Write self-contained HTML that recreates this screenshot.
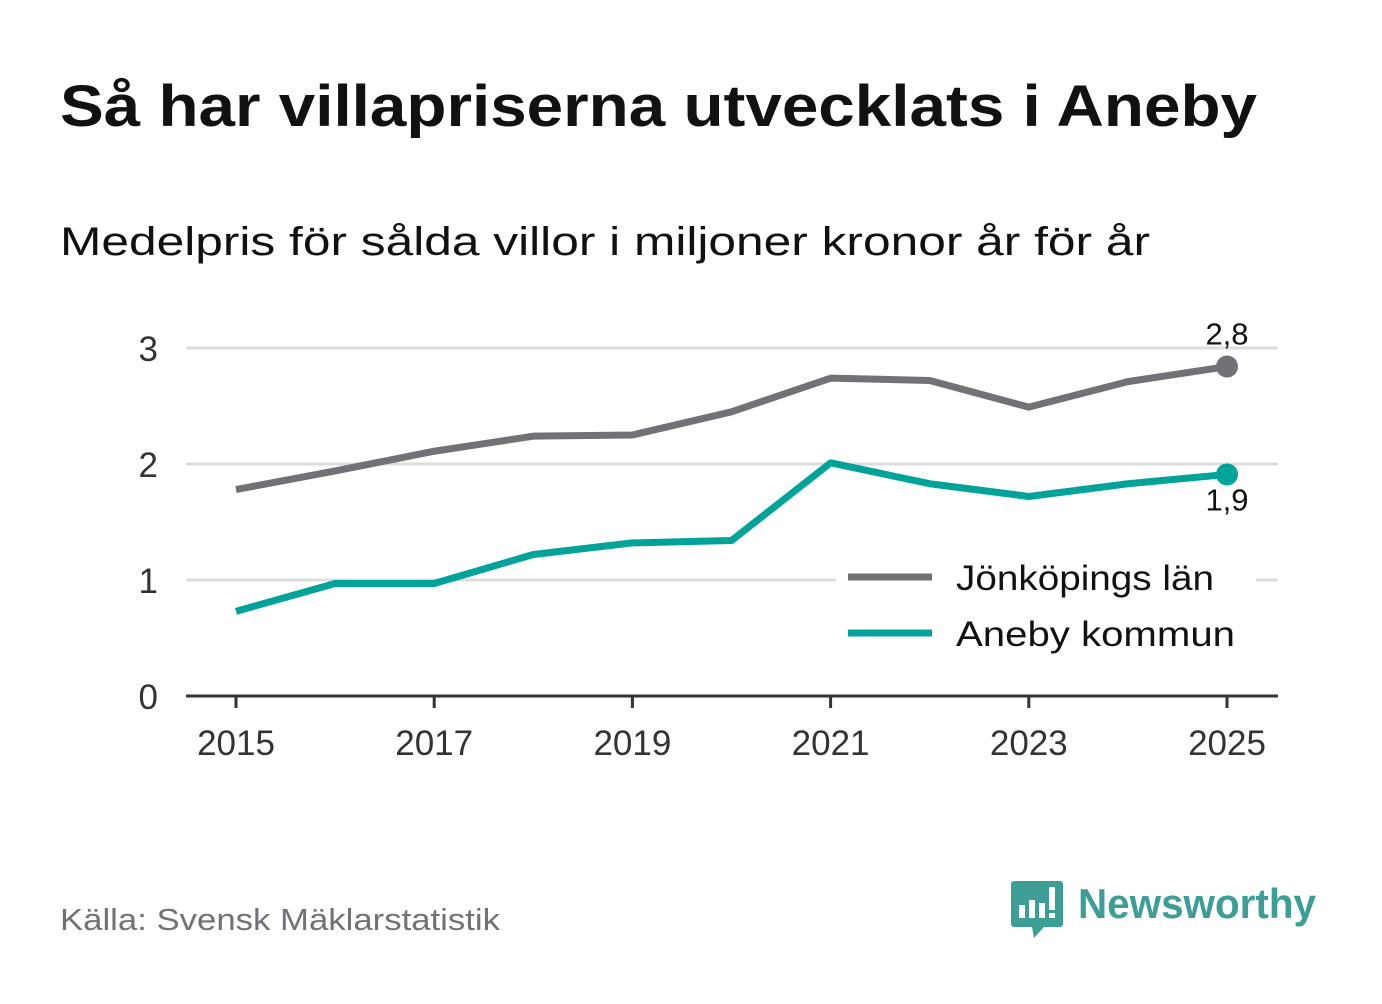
<!DOCTYPE html>
<html><head><meta charset="utf-8"><style>
body{margin:0;width:1382px;height:999px;background:#fff;font-family:"Liberation Sans","DejaVu Sans",sans-serif;overflow:hidden}
</style></head><body>
<svg width="1382" height="999" xmlns="http://www.w3.org/2000/svg">
<text x="60" y="126" font-size="58" font-weight="bold" fill="#111" textLength="1197" lengthAdjust="spacingAndGlyphs">Så har villapriserna utvecklats i Aneby</text>
<text x="60" y="255" font-size="40" fill="#111" textLength="1090" lengthAdjust="spacingAndGlyphs">Medelpris för sålda villor i miljoner kronor år för år</text>
<g id="grid"></g><g id="axes"></g><g id="lines"></g>
<g>
<rect x="836" y="560" width="420" height="110" fill="#fff"/>
<line x1="848" y1="577" x2="932" y2="577" stroke="#727178" stroke-width="7"/>
<text x="956" y="590" font-size="35" fill="#111" textLength="258" lengthAdjust="spacingAndGlyphs">Jönköpings län</text>
<line x1="848" y1="633" x2="932" y2="633" stroke="#00a39a" stroke-width="7"/>
<text x="956" y="646" font-size="35" fill="#111" textLength="279" lengthAdjust="spacingAndGlyphs">Aneby kommun</text>
</g>
<text x="60" y="930" font-size="31" fill="#727178" textLength="440" lengthAdjust="spacingAndGlyphs">Källa: Svensk Mäklarstatistik</text>
<g>
<path d="M1014 881 h46 a3 3 0 0 1 3 3 v40 a3 3 0 0 1 -3 3 h-16 l-10 11 l-2 -11 h-18 a3 3 0 0 1 -3 -3 v-40 a3 3 0 0 1 3 -3z" fill="#3d9e96"/>
<rect x="1019" y="905" width="6" height="13" fill="#fff"/><rect x="1029" y="900" width="6" height="18" fill="#fff"/><rect x="1039" y="903" width="6" height="15" fill="#fff"/><rect x="1049" y="887" width="6" height="23" fill="#fff"/><rect x="1049" y="913" width="6" height="5" fill="#fff"/>
<text x="1078" y="918" font-size="42" font-weight="bold" fill="#3d9e96" textLength="238" lengthAdjust="spacingAndGlyphs">Newsworthy</text>
</g>
</svg>
<script>
const years=[2015,2016,2017,2018,2019,2020,2021,2022,2023,2024,2025];
const jonkoping=[1.78,1.94,2.11,2.24,2.25,2.45,2.74,2.72,2.49,2.71,2.84];
const aneby=[0.73,0.97,0.97,1.22,1.32,1.34,2.01,1.83,1.72,1.83,1.91];
const yTicks=[0,1,2,3];
const xTicks=[2015,2017,2019,2021,2023,2025];
const NS="http://www.w3.org/2000/svg";
const x=v=>236+(v-2015)*99.1;
const y=v=>696-v*116;
function mk(t,a,p){const e=document.createElementNS(NS,t);for(const k in a)e.setAttribute(k,a[k]);document.getElementById(p).appendChild(e);return e;}
yTicks.forEach(t=>{
 if(t>0){const g=mk('line',{x1:186,x2:1278,y1:y(t),y2:y(t),stroke:'#ddd','stroke-width':3},'grid');
 
 }
 const l=mk('text',{x:158,y:y(t)+13,'font-size':35,fill:'#333','text-anchor':'end'},'axes');l.textContent=t;
 
 
});
const ax=mk('line',{x1:186,x2:1278,y1:696,y2:696,stroke:'#333','stroke-width':3},'axes');


xTicks.forEach(t=>{
 mk('line',{x1:x(t),x2:x(t),y1:696,y2:708,stroke:'#333','stroke-width':3},'axes');
 const l=mk('text',{x:x(t),y:755,'font-size':35,fill:'#333','text-anchor':'middle'},'axes');l.textContent=t;
 
 
});
function series(vals,col,name,labelDy){
 const p=mk('polyline',{points:vals.map((v,i)=>x(years[i])+','+y(v)).join(' '),fill:'none',stroke:col,'stroke-width':7,'stroke-linejoin':'round'},'lines');
 
 
 const n=vals.length-1;
 const c=mk('circle',{cx:x(years[n]),cy:y(vals[n]),r:11,fill:col},'lines');
 
 
 const t=mk('text',{x:x(years[n]),y:y(vals[n])+labelDy,'font-size':31,fill:'#111','text-anchor':'middle'},'lines');
 t.textContent=vals[n].toFixed(1).replace('.',',');
 
 
}
series(jonkoping,'#727178','jonkoping',-22);
series(aneby,'#00a39a','aneby',36);
</script>
</body></html>
